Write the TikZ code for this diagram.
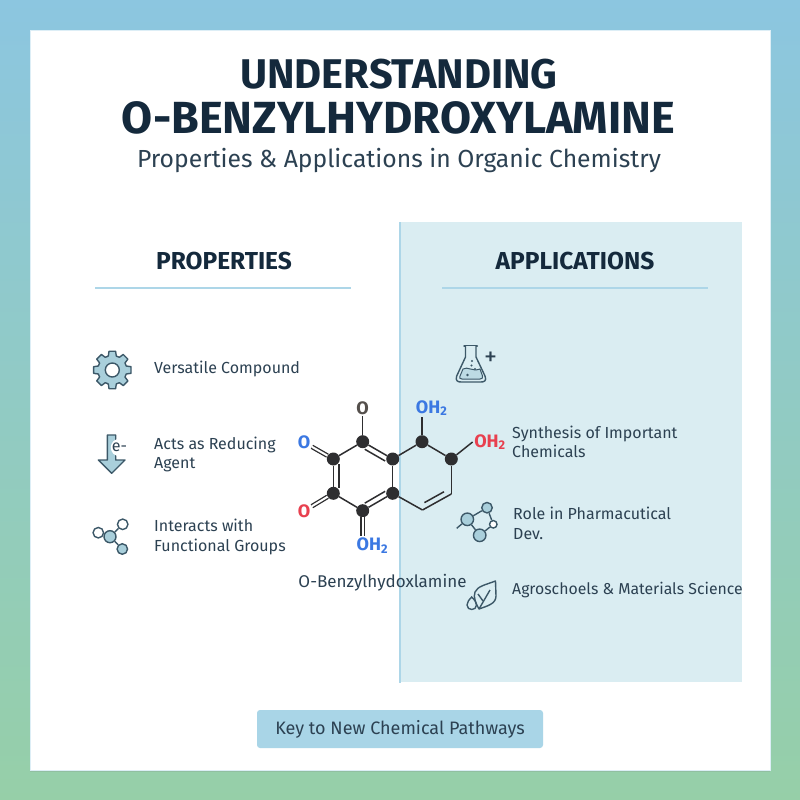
\documentclass[tikz,border=0pt]{standalone}
\usepackage{fontspec}
\setmainfont{Fira Sans}
\usetikzlibrary{calc,shadows}

\definecolor{bgtop}{HTML}{8CC6E0}
\definecolor{bgbottom}{HTML}{96CFA8}
\definecolor{inkdark}{HTML}{14293C}
\definecolor{inktext}{HTML}{2C4152}
\definecolor{iconline}{HTML}{3C5868}
\definecolor{iconfill}{HTML}{A9CFDB}
\definecolor{paneblue}{HTML}{DAEDF2}
\definecolor{ruleblue}{HTML}{ADD6E8}
\definecolor{btnblue}{HTML}{A9D5E7}
\definecolor{atomblue}{HTML}{3B78E2}
\definecolor{atomred}{HTML}{E8404F}
\definecolor{atomgrey}{HTML}{55504C}
\definecolor{bondink}{HTML}{2E2E30}

\tikzset{
  heading/.style={font=\fontsize{24.5}{28}\selectfont\bfseries, text=inkdark},
  item/.style={anchor=west, align=left, inner sep=0pt, text=inktext, font=\fontsize{16}{19.5}\selectfont},
  rulerline/.style={ruleblue, line width=1.2pt},
  atom/.style={circle, fill=bondink, inner sep=0pt, minimum size=13pt},
  bond/.style={bondink, line width=1.5pt},
  dbond/.style={bondink, line width=1.3pt, double=white, double distance=2pt},
  lbl/.style={inner sep=1.5pt, font=\fontsize{18}{20}\selectfont\bfseries},
  icon/.style={iconline, line width=1.4pt},
  dot/.style={circle, draw=iconline, line width=1.4pt, inner sep=0pt, fill=iconfill},
  ringdot/.style={dot, fill=white}
}

\newcommand{\InBond}[2]{\draw[bond] ($(#1)!0.16!(#2)!5.5pt!-90:(#2)$) -- ($(#2)!0.16!(#1)!5.5pt!90:(#1)$);}

\begin{document}
\begin{tikzpicture}[x=1pt,y=-1pt]

\useasboundingbox (0,0) rectangle (800,800);
\shade[top color=bgtop, bottom color=bgbottom] (0,0) rectangle (800,800);
\fill[white, draw=white!70!bgtop, line width=.8pt, drop shadow={shadow xshift=0pt, shadow yshift=-1.5pt, opacity=.2}] (30,30) rectangle (770,770);

\fill[paneblue] (400,222) rectangle (742,682);
\draw[ruleblue, line width=2pt] (400,222) -- (400,683);

\node[inner sep=0pt, text=inkdark, font=\fontsize{41.5}{44}\selectfont\bfseries] (title1) at (399,74) {UNDERSTANDING};
\node[inner sep=0pt, text=inkdark, font=\fontsize{45}{48}\selectfont\bfseries] (title2) at (398.5,118) {O-BENZYLHYDROXYLAMINE};
\node[inner sep=0pt, text=inktext, font=\fontsize{24.7}{30}\selectfont] (subtitle) at (399,160) {Properties \& Applications in Organic Chemistry};

\node[heading] (props) at (224,261) {PROPERTIES};
\node[heading] (apps) at (575,261) {APPLICATIONS};
\draw[rulerline] (95,288) -- (351,288);
\draw[rulerline] (442,288) -- (708,288);

\begin{scope}[shift={(112.3,370)}]
\draw[icon, fill=iconfill, line join=round] (-16:14.5)
  \foreach \a in {0,45,...,315} { -- (\a-16:14.5) -- (\a-10:19) -- (\a+10:19) -- (\a+16:14.5) } -- cycle;
\draw[icon, fill=white] (0,0) circle (7);
\end{scope}
\node[item] (versatile) at (154,369) {Versatile Compound};

\draw[icon, fill=iconfill, line join=round] (107.3,435) -- (115.7,435) -- (115.7,460) -- (125,460) -- (111.7,473.3) -- (98.3,460) -- (107.3,460) -- cycle;
\node[circle, fill=white, inner sep=0pt, text=inktext, font=\fontsize{16}{16}\selectfont] (echarge) at (119.5,447.5) {e-};
\node[item] (reducing) at (154,454.5) {Acts as Reducing\\Agent};

\node[ringdot, minimum size=10.5pt] (n1) at (98.3,532.7) {};
\node[dot, minimum size=12pt] (n2) at (110,536.7) {};
\node[ringdot, minimum size=10.5pt] (n3) at (122.7,524.3) {};
\node[dot, minimum size=10.5pt] (n4) at (122.3,549) {};
\draw[icon] (n2) -- (n3);
\draw[icon] (n2) -- (n4);
\node[item] (interacts) at (154,537) {Interacts with\\Functional Groups};

\draw[icon, line cap=round] (464,346) -- (477.3,346);
\draw[icon, fill=paneblue, line join=round] (465.5,346) -- (465.5,357) -- (456.7,376) .. controls (455,381) and (458,382) .. (461,382) -- (481,382) .. controls (484,382) and (487,381) .. (485,376) -- (476,357) -- (476,346);
\draw[iconline, fill=iconfill!60!paneblue, line width=1pt] (463,369) .. controls (468,366) and (472,372) .. (480,369) -- (482.5,376) .. controls (483,378) and (482,379) .. (480,379) -- (462,379) .. controls (460,379) and (459,378) .. (460,376) -- cycle;
\fill[iconline] (472,361) circle (1.2);
\fill[iconline] (471.5,365.5) circle (1.2);
\fill[iconline] (475,369) circle (1.2);
\fill[iconline] (467.5,375) circle (1.3);
\node[inner sep=0pt, text=inktext, font=\fontsize{26}{26}\selectfont] (plus) at (490.7,359) {+};
\node[item] (synthesis) at (512,442) {Synthesis of Important\\Chemicals};

\node[dot, minimum size=12.5pt] (p1) at (467.3,519.3) {};
\node[dot, minimum size=10.5pt] (p2) at (487,507.7) {};
\node[ringdot, minimum size=7.5pt] (p3) at (493.3,524.3) {};
\node[dot, minimum size=12.5pt] (p4) at (479.7,535.3) {};
\coordinate (p5) at (456.7,528.3);
\draw[icon] (p1) -- (p2);
\draw[icon] (p2) -- (p3);
\draw[icon] (p3) -- (p4);
\draw[icon] (p4) -- (p1);
\draw[icon] (p1) -- (p5);
\node[item] (pharma) at (513,523.5) {Role in Pharmacutical\\Dev.};

\draw[icon, line join=round] (495.5,581) .. controls (485,585) and (478,586) .. (475,592) .. controls (473,597) and (476,604) .. (479,609) .. controls (487,606) and (496,604) .. (496,596) -- cycle;
\draw[icon] (479,609) -- (490,590);
\draw[icon] (483,601) -- (478,594);
\draw[icon] (471.7,597) .. controls (469,600) and (467,602) .. (467,605) .. controls (467,611) and (476.5,611) .. (476.5,605) .. controls (476.5,602) and (474.5,600) .. (471.7,597) -- cycle;
\node[item, font=\fontsize{15.8}{19.5}\selectfont] (agro) at (512,590) {Agroschoels \& Materials Science};

\node[atom] (a1) at (362.7,441.7) {};
\node[atom] (a2) at (333.3,459) {};
\node[atom] (a3) at (333.3,493.3) {};
\node[atom] (a4) at (362.7,510.7) {};
\node[atom] (a5) at (392.7,493.3) {};
\node[atom] (a6) at (392.7,459) {};
\node[atom] (b1) at (422,441.7) {};
\node[atom] (b2) at (451.3,459) {};
\coordinate (b3) at (451.3,494);
\coordinate (b4) at (422.5,510);

\node[lbl, text=atomgrey] (ltop) at (362.7,408) {O};
\node[lbl, text=atomblue] (lblue) at (304,442.3) {O};
\node[lbl, text=atomred] (lred) at (304,511) {O};
\node[lbl, text=atomblue] (oha) at (431.7,408) {OH\textsubscript{2}};
\node[lbl, text=atomred] (ohb) at (490,442) {OH\textsubscript{2}};
\node[lbl, text=atomblue] (ohc) at (372.3,545.7) {OH\textsubscript{2}};

\draw[bond] (a1) -- (a2);
\draw[bond] (a2) -- (a3);
\draw[bond] (a3) -- (a4);
\draw[bond] (a4) -- (a5);
\draw[bond] (a5) -- (a6);
\draw[bond] (a6) -- (a1);
\draw[bond] (a6) -- (b1);
\draw[bond] (b1) -- (b2);
\draw[bond] (b2) -- (b3);
\draw[bond] (b3) -- (b4);
\draw[bond] (b4) -- (a5);
\draw[bond] (a1) -- (ltop);
\draw[bond] (b1) -- (oha.south -| b1);
\draw[bond] (b2) -- (ohb.west);
\draw[dbond] (a2) -- (lblue);
\draw[dbond] (a3) -- (lred);
\draw[dbond] (a4) -- (ohc.north -| a4);
\InBond{a1}{a6}
\InBond{a3}{a2}
\InBond{a5}{a4}
\InBond{b3}{b4}

\node[inner sep=0pt, text=inktext, font=\fontsize{17}{19}\selectfont] (caption) at (382.5,583) {O-Benzylhydoxlamine};

\node[rounded corners=3pt, fill=btnblue, minimum width=286pt, minimum height=38pt, inner sep=0pt, text=inktext, font=\fontsize{18}{20}\selectfont] (key) at (400,729) {Key to New Chemical Pathways};

\end{tikzpicture}
\end{document}
